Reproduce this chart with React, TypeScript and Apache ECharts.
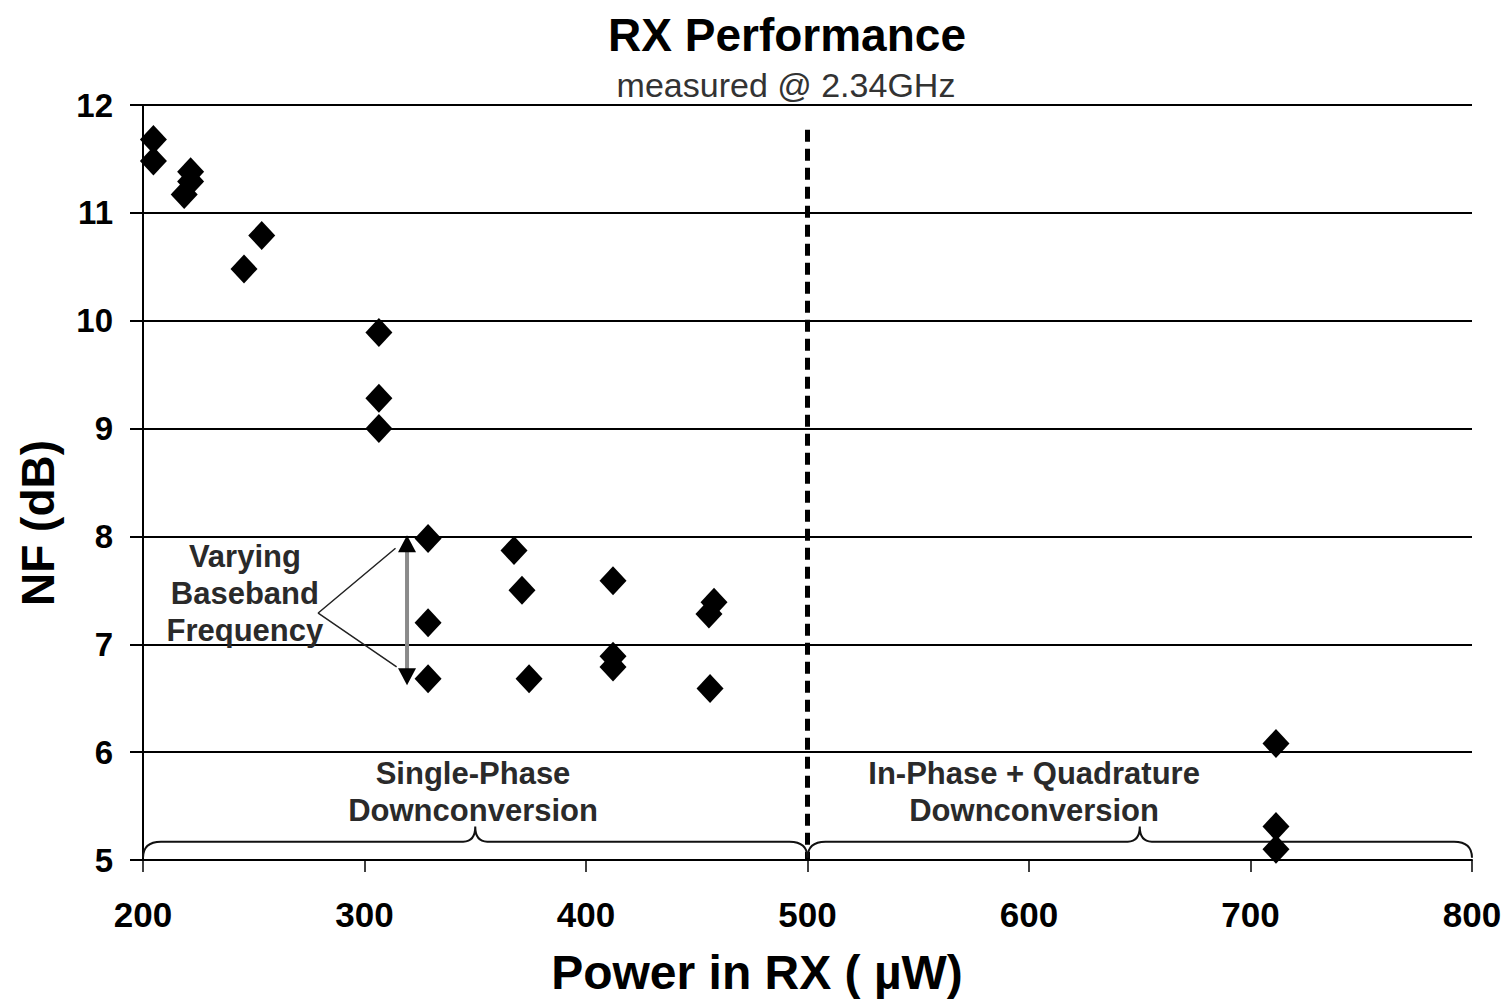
import React, { useEffect, useRef } from "react";
import * as echarts from "echarts";

// ---- data ----
const powerUW = [204.7, 204.7, 221.5, 221.5, 218.6, 253.6, 245.6, 306.5, 306.5, 306.5, 328.7, 328.7, 328.7, 367.5, 371.1, 374.3, 412.2, 412.2, 412.2, 457.8, 455.5, 456.0, 711.5, 711.5, 711.5];
const nfDB = [11.68, 11.48, 11.38, 11.29, 11.17, 10.79, 10.48, 9.89, 9.28, 9.0, 7.98, 7.2, 6.68, 7.87, 7.5, 6.68, 7.59, 6.89, 6.79, 7.39, 7.28, 6.59, 6.08, 5.31, 5.1];

const xTicks = [200, 300, 400, 500, 600, 700, 800];
const yTicks = [5, 6, 7, 8, 9, 10, 11, 12];

const dividerX = 500;
const dividerTop = 11.77;

const braceFrom = [200, 500];
const braceTo = [500, 800];
const braceMid = [350, 650];
const braceEndNF = 5.02;
const braceBarNF = 5.17;
const braceCuspNF = 5.31;

const annotationX = [246, 349, 602.3];
const annotationY = [7.47, 5.63, 5.63];
const annotationText = ["Varying\nBaseband\nFrequency", "Single-Phase\nDownconversion", "In-Phase + Quadrature\nDownconversion"];

const pointerX = [314, 279.1, 314.5];
const pointerY = [7.89, 7.29, 6.79];

const arrowX = 319.2;
const arrowTopNF = 8.01;
const arrowBottomNF = 6.62;

const FONT = '"Liberation Sans", Arial, Helvetica, sans-serif';

export default function App() {
  const ref = useRef<HTMLDivElement>(null);

  useEffect(() => {
    if (!ref.current) return;
    const chart = echarts.init(ref.current, undefined, { renderer: "svg" });

    const points = powerUW.map((x, i) => [x, nfDB[i]]);
    const pointer = pointerX.map((x, i) => [x, pointerY[i]]);

    const option: any = {
      animation: false,
      backgroundColor: "#ffffff",
      grid: { left: 143, right: 32, top: 105, bottom: 142, containLabel: false, outerBoundsMode: "none" },
      graphic: [
        { type: "text", x: 787, y: 35, style: { text: "RX Performance", font: `bold 46px ${FONT}`, fill: "#000", align: "center", verticalAlign: "middle" } },
        { type: "text", x: 786, y: 85, style: { text: "measured @ 2.34GHz", font: `34px ${FONT}`, fill: "#333", align: "center", verticalAlign: "middle" } },
        { type: "text", x: 757, y: 972, style: { text: "Power in RX ( µW)", font: `bold 48px ${FONT}`, fill: "#000", align: "center", verticalAlign: "middle" } },
        { type: "text", x: 38, y: 523, rotation: Math.PI / 2, style: { text: "NF (dB)", font: `bold 46px ${FONT}`, fill: "#000", align: "center", verticalAlign: "middle" } },
      ],
      xAxis: {
        type: "value",
        min: xTicks[0],
        max: xTicks[xTicks.length - 1],
        interval: 100,
        axisLine: { show: true, onZero: false, lineStyle: { color: "#000", width: 2 } },
        axisTick: { show: true, inside: false, length: 12, lineStyle: { color: "#000", width: 1.5 } },
        axisLabel: { fontSize: 35, fontWeight: "bold", fontFamily: FONT, color: "#000", margin: 37 },
        splitLine: { show: false },
      },
      yAxis: {
        type: "value",
        min: yTicks[0],
        max: yTicks[yTicks.length - 1],
        interval: 1,
        axisLine: { show: true, onZero: false, lineStyle: { color: "#000", width: 2 } },
        axisTick: { show: true, inside: false, length: 13, lineStyle: { color: "#000", width: 2 } },
        axisLabel: { fontSize: 33, fontWeight: "bold", fontFamily: FONT, color: "#000", margin: 30 },
        splitLine: { show: true, lineStyle: { color: "#000", width: 2 } },
      },
      series: [
        {
          type: "line",
          data: [[dividerX, dividerTop], [dividerX, yTicks[0]]],
          symbol: "none",
          lineStyle: { color: "#000", width: 5, type: [12, 7] },
          z: 3,
          silent: true,
        },
        {
          type: "custom",
          data: braceMid.map((m) => [m, braceBarNF]),
          clip: false,
          silent: true,
          z: 4,
          renderItem: (params: any, api: any) => {
            const i = params.dataIndex;
            const x0 = api.coord([braceFrom[i], braceBarNF])[0];
            const x1 = api.coord([braceTo[i], braceBarNF])[0];
            const xm = api.coord([braceMid[i], braceBarNF])[0];
            const yBar = api.coord([braceMid[i], braceBarNF])[1];
            const yEnd = api.coord([braceMid[i], braceEndNF])[1];
            const yCusp = api.coord([braceMid[i], braceCuspNF])[1];
            const r = 18;
            const c = 12;
            const d = `M${x0},${yEnd} Q${x0},${yBar} ${x0 + r},${yBar} L${xm - c},${yBar} Q${xm},${yBar} ${xm},${yCusp} Q${xm},${yBar} ${xm + c},${yBar} L${x1 - r},${yBar} Q${x1},${yBar} ${x1},${yEnd}`;
            return { type: "path", shape: { pathData: d }, style: { stroke: "#111", fill: "none", lineWidth: 2 } };
          },
        },
        {
          type: "custom",
          data: annotationX.map((x, i) => [x, annotationY[i]]),
          clip: false,
          silent: true,
          z: 5,
          renderItem: (params: any, api: any) => {
            const i = params.dataIndex;
            const p = api.coord([annotationX[i], annotationY[i]]);
            return {
              type: "text",
              x: p[0],
              y: p[1],
              style: {
                text: annotationText[i],
                font: `bold 31px ${FONT}`,
                fill: "#2a2a2a",
                align: "center",
                verticalAlign: "middle",
                lineHeight: 37,
              },
            };
          },
        },
        {
          type: "line",
          data: pointer,
          symbol: "none",
          lineStyle: { color: "#222", width: 1.5 },
          z: 5,
          silent: true,
        },
        {
          type: "line",
          data: [[arrowX, arrowTopNF - 0.1], [arrowX, arrowBottomNF + 0.1]],
          symbol: "none",
          lineStyle: { color: "#8a8a8a", width: 4 },
          z: 5,
          silent: true,
        },
        {
          type: "custom",
          data: [[arrowX, arrowTopNF], [arrowX, arrowBottomNF]],
          clip: false,
          silent: true,
          z: 6,
          renderItem: (params: any, api: any) => {
            const i = params.dataIndex;
            const p = api.coord([arrowX, i === 0 ? arrowTopNF : arrowBottomNF]);
            const dir = i === 0 ? 1 : -1;
            return {
              type: "polygon",
              shape: { points: [[p[0], p[1]], [p[0] - 9, p[1] + 17 * dir], [p[0] + 9, p[1] + 17 * dir]] },
              style: { fill: "#000" },
            };
          },
        },
        {
          type: "scatter",
          data: points,
          symbol: "diamond",
          symbolSize: [27, 29],
          itemStyle: { color: "#000", opacity: 1 },
          z: 10,
          silent: true,
        },
      ],
    };

    chart.setOption(option);
    return () => chart.dispose();
  }, []);

  return <div ref={ref} style={{ position: "absolute", left: 0, top: 0, width: 1504, height: 1002 }} />;
}
